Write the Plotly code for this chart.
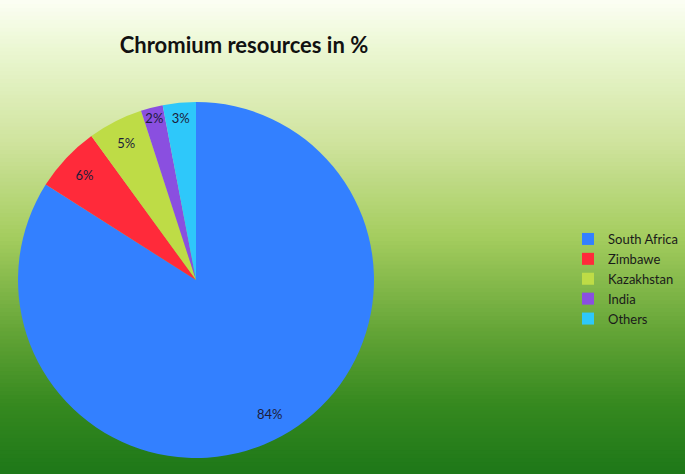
import numpy as np
import plotly.graph_objects as go

# Data
countries = ["South Africa", "Zimbawe", "Kazakhstan", "India", "Others"]
shares = [84, 6, 5, 2, 3]
slice_colors = ["#3380ff", "#ff2a3a", "#bedc46", "#8a4fe0", "#2ec8fa"]

# Background gradient stops (position from top, rgb)
grad_pos = [0.0, 0.1, 0.3, 0.5, 0.7, 0.85, 1.0]
grad_rgb = [(252, 255, 245), (236, 248, 212), (208, 228, 158), (165, 205, 95),
            (100, 165, 55), (55, 138, 32), (30, 120, 25)]

W, H = 685, 474
FONT = "Lato, Open Sans, sans-serif"
pie_domain = dict(x=[18 / W, 374 / W], y=[1 - 458 / H, 1 - 102 / H])

fig = go.Figure()
# the coloured pie
fig.add_trace(go.Pie(
    labels=countries,
    values=shares,
    marker=dict(colors=slice_colors, line=dict(width=0)),
    sort=False,
    direction="clockwise",
    rotation=0,
    textinfo="none",
    domain=pie_domain,
    hoverinfo="label+percent",
))
# transparent ring on top, only to put the labels near the rim
fig.add_trace(go.Pie(
    labels=countries,
    values=shares,
    marker=dict(colors=["rgba(0,0,0,0)"] * len(shares), line=dict(width=0)),
    sort=False,
    direction="clockwise",
    rotation=0,
    hole=0.72,
    texttemplate="%{value}%",
    textposition="inside",
    insidetextorientation="horizontal",
    textfont=dict(family=FONT, size=13, color="#1c1c3a"),
    domain=pie_domain,
    hoverinfo="skip",
    showlegend=False,
))

# gradient as stacked strips
n = 120
shapes = []
arr = np.array(grad_rgb, dtype=float)
for i in range(n):
    t = (i + 0.5) / n
    c = [np.interp(t, grad_pos, arr[:, k]) for k in range(3)]
    shapes.append(dict(
        type="rect", xref="paper", yref="paper",
        x0=0, x1=1, y0=1 - (i + 1) / n - 0.002, y1=1 - i / n,
        fillcolor="rgb(%d,%d,%d)" % tuple(int(v) for v in c),
        line=dict(width=0), layer="below",
    ))

fig.update_layout(
    width=W, height=H,
    margin=dict(l=0, r=0, t=0, b=0),
    paper_bgcolor="#ffffff",
    shapes=shapes,
    title=dict(text="<b>Chromium resources in %</b>", x=244 / W, xanchor="center",
               y=1 - 45 / H, yanchor="middle",
               font=dict(family=FONT, size=22, color="#111111")),
    legend=dict(x=568 / W, xanchor="left", y=1 - 279 / H, yanchor="middle",
                font=dict(family=FONT, size=13, color="#1a1a1a"),
                bgcolor="rgba(0,0,0,0)"),
    uniformtext=dict(minsize=13, mode="show"),
)

fig.write_html("out.html", config={"displayModeBar": False},
               post_script="document.body.style.margin='0';")
